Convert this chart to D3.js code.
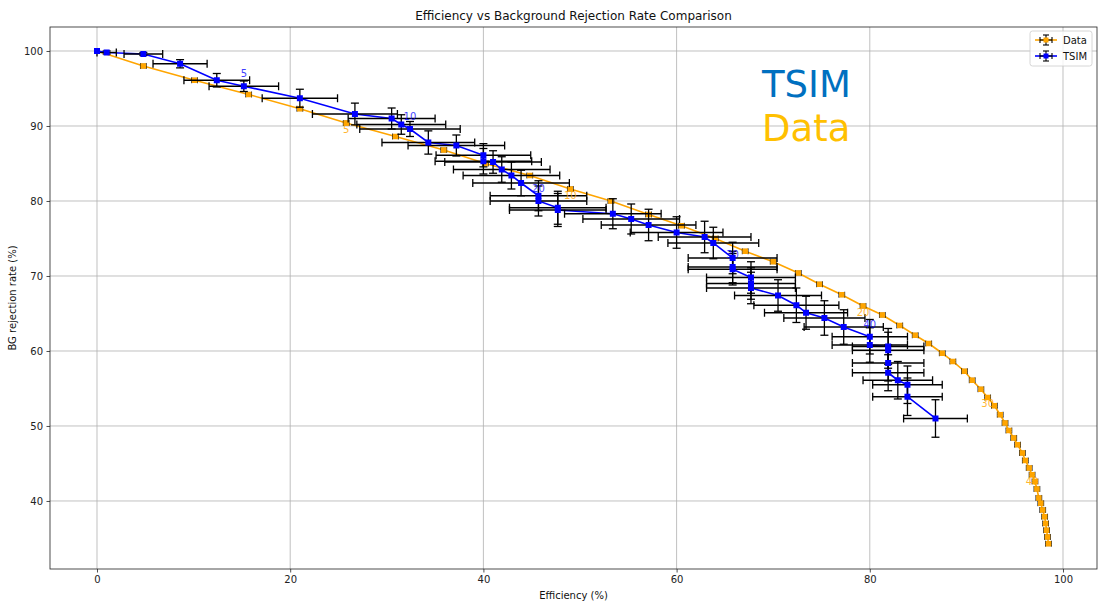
<!DOCTYPE html>
<html>
<head>
<meta charset="utf-8">
<script src="https://cdn.jsdelivr.net/npm/d3@7"></script>
<style>
  html, body { margin: 0; padding: 0; background: #ffffff; }
  svg { display: block; font-family: "DejaVu Sans", sans-serif; }
</style>
</head>
<body>
<svg id="chart" width="1099" height="602"></svg>
<script>
// ---------- data ----------
const dataEff = [0, 4.8, 10.1, 15.7, 21.0, 25.8, 30.9, 35.9, 40.2, 44.8, 49.0, 53.2, 57.1, 60.5, 64.0, 67.1, 70.0, 72.6, 74.8, 77.1, 79.3, 81.3, 83.1, 84.7, 86.1, 87.5, 88.6, 89.8, 90.6, 91.5, 92.2, 92.9, 93.5, 94.0, 94.4, 94.9, 95.3, 95.8, 96.1, 96.5, 96.8, 97.1, 97.3, 97.5, 97.7, 97.9, 98.1, 98.2, 98.3, 98.4, 98.5];
const dataRej = [100, 98.0, 96.1, 94.2, 92.3, 90.4, 88.6, 86.8, 85.0, 83.4, 81.6, 80.0, 78.2, 76.7, 75.0, 73.3, 71.9, 70.4, 68.9, 67.5, 66.0, 64.8, 63.4, 62.1, 61.0, 59.7, 58.6, 57.3, 56.1, 54.9, 53.8, 52.7, 51.5, 50.4, 49.4, 48.4, 47.5, 46.4, 45.4, 44.4, 43.5, 42.6, 41.6, 40.4, 39.7, 38.8, 37.9, 37.0, 36.1, 35.2, 34.3];
const dataXErr = [0, 0.3, 0.3, 0.3, 0.3, 0.3, 0.3, 0.3, 0.3, 0.3, 0.3, 0.3, 0.3, 0.3, 0.3, 0.3, 0.3, 0.3, 0.3, 0.3, 0.3, 0.3, 0.3, 0.3, 0.3, 0.3, 0.3, 0.3, 0.3, 0.3, 0.3, 0.3, 0.3, 0.3, 0.3, 0.3, 0.3, 0.3, 0.3, 0.3, 0.3, 0.3, 0.3, 0.3, 0.3, 0.3, 0.3, 0.3, 0.3, 0.3, 0.3];
const dataYErr = [0, 0.25, 0.25, 0.25, 0.25, 0.25, 0.25, 0.25, 0.25, 0.25, 0.25, 0.25, 0.25, 0.25, 0.25, 0.25, 0.25, 0.25, 0.25, 0.25, 0.25, 0.25, 0.25, 0.25, 0.25, 0.25, 0.25, 0.25, 0.25, 0.25, 0.25, 0.25, 0.25, 0.25, 0.25, 0.25, 0.25, 0.25, 0.25, 0.25, 0.25, 0.25, 0.25, 0.25, 0.25, 0.25, 0.25, 0.25, 0.25, 0.25, 0.25];

const tsimEff = [0, 1.0, 4.8, 8.6, 12.4, 15.2, 21.0, 26.7, 30.5, 31.5, 32.4, 34.3, 37.2, 40.0, 40.0, 41.0, 41.9, 42.9, 43.9, 45.7, 45.7, 47.7, 47.7, 53.4, 55.3, 57.1, 60.0, 62.9, 63.8, 65.8, 65.8, 65.8, 67.7, 67.7, 67.7, 70.5, 72.4, 73.4, 75.3, 77.3, 80.0, 80.0, 81.9, 81.9, 81.9, 81.9, 82.9, 83.9, 83.9, 86.8];
const tsimRej = [100, 99.8, 99.6, 98.3, 96.1, 95.3, 93.7, 91.6, 91.0, 90.2, 89.6, 87.8, 87.4, 86.1, 85.3, 85.2, 84.2, 83.4, 82.4, 80.7, 80.0, 79.1, 78.8, 78.3, 77.6, 76.8, 75.8, 75.2, 74.4, 72.4, 71.2, 70.9, 69.8, 69.0, 68.4, 67.4, 66.1, 65.1, 64.4, 63.2, 61.9, 60.8, 60.6, 60.1, 58.4, 57.1, 56.1, 55.5, 53.9, 51.0];
const tsimXErr = [0, 1.0, 2.0, 2.8, 3.4, 3.6, 3.9, 4.4, 4.5, 4.6, 5.2, 4.8, 5.0, 4.9, 5.0, 5.0, 5.0, 5.0, 5.0, 5.0, 5.0, 5.0, 5.0, 5.0, 5.0, 4.9, 4.8, 4.8, 4.7, 4.6, 4.6, 4.6, 4.6, 4.6, 4.6, 4.5, 4.4, 4.3, 4.2, 4.1, 3.9, 3.9, 3.7, 3.7, 3.7, 3.7, 3.6, 3.6, 3.6, 3.3];
const tsimYErr = [0, 0.2, 0.2, 0.55, 0.9, 0.7, 1.2, 1.45, 1.4, 1.3, 1.0, 1.55, 1.4, 1.55, 1.7, 1.5, 1.7, 1.8, 1.7, 2.0, 2.0, 2.2, 2.2, 2.0, 2.0, 2.1, 2.1, 2.1, 2.1, 2.1, 2.1, 2.1, 2.1, 2.1, 2.1, 2.1, 2.3, 2.2, 2.3, 2.3, 2.3, 2.3, 2.4, 2.4, 2.4, 2.4, 2.5, 2.5, 2.5, 2.5];

const labelIdx = [5, 10, 20, 30, 40];
const xTicks = [0, 20, 40, 60, 80, 100];
const yTicks = [40, 50, 60, 70, 80, 90, 100];
const seriesNames = ["Data", "TSIM"];

// ---------- layout ----------
const svg = d3.select("#chart");
const L = 50, R = 1097, T = 27, B = 569;
const x = d3.scaleLinear().domain([-4.865, 103.52]).range([L, R]);
const y = d3.scaleLinear().domain([30.93, 103.2]).range([B, T]);

const C_DATA = "#FFA500", C_TSIM = "#0000FF", C_ERR = "#000000";

// grid
const grid = svg.append("g");
grid.selectAll(".gx").data(xTicks).join("line")
  .attr("x1", d => x(d)).attr("x2", d => x(d)).attr("y1", T).attr("y2", B)
  .attr("stroke", "#b0b0b0").attr("stroke-width", 0.8);
grid.selectAll(".gy").data(yTicks).join("line")
  .attr("y1", d => y(d)).attr("y2", d => y(d)).attr("x1", L).attr("x2", R)
  .attr("stroke", "#b0b0b0").attr("stroke-width", 0.8);

// axes
const xAxis = d3.axisBottom(x).tickValues(xTicks).tickSize(3.5).tickPadding(3.5).tickFormat(d3.format("d"));
const yAxis = d3.axisLeft(y).tickValues(yTicks).tickSize(3.5).tickPadding(3.5).tickFormat(d3.format("d"));
const gx = svg.append("g").attr("transform", `translate(0,${B})`).call(xAxis);
const gy = svg.append("g").attr("transform", `translate(${L},0)`).call(yAxis);
[gx, gy].forEach(g => {
  g.select(".domain").remove();
  g.selectAll("text").attr("font-size", 10).attr("fill", "#222").attr("font-family", "DejaVu Sans, sans-serif");
  g.selectAll("line").attr("stroke", "#222").attr("stroke-width", 0.8);
});

// clip
svg.append("clipPath").attr("id", "clip").append("rect")
  .attr("x", L).attr("y", T).attr("width", R - L).attr("height", B - T);
const plot = svg.append("g").attr("clip-path", "url(#clip)");

function drawSeries(effs, rejs, xe, ye, color, msize, lw, ebw, cap) {
  const pts = effs.map((e, i) => ({ e, r: rejs[i], xe: xe[i], ye: ye[i], i }));
  const g = plot.append("g");
  // line
  g.append("path").datum(pts)
    .attr("d", d3.line().x(d => x(d.e)).y(d => y(d.r)))
    .attr("fill", "none").attr("stroke", color).attr("stroke-width", lw);
  // error bars
  const eb = g.append("g").attr("stroke", C_ERR).attr("stroke-width", ebw).attr("fill", "none");
  pts.forEach(d => {
    if (d.xe > 0) {
      const x0 = x(d.e - d.xe), x1 = x(d.e + d.xe), yy = y(d.r);
      eb.append("line").attr("x1", x0).attr("x2", x1).attr("y1", yy).attr("y2", yy);
      eb.append("line").attr("x1", x0).attr("x2", x0).attr("y1", yy - cap).attr("y2", yy + cap);
      eb.append("line").attr("x1", x1).attr("x2", x1).attr("y1", yy - cap).attr("y2", yy + cap);
    }
    if (d.ye > 0) {
      const y0 = y(d.r - d.ye), y1 = y(d.r + d.ye), xx = x(d.e);
      eb.append("line").attr("x1", xx).attr("x2", xx).attr("y1", y0).attr("y2", y1);
      eb.append("line").attr("x1", xx - cap).attr("x2", xx + cap).attr("y1", y0).attr("y2", y0);
      eb.append("line").attr("x1", xx - cap).attr("x2", xx + cap).attr("y1", y1).attr("y2", y1);
    }
  });
  // markers
  g.selectAll("rect.m").data(pts).join("rect")
    .attr("x", d => x(d.e) - msize / 2).attr("y", d => y(d.r) - msize / 2)
    .attr("width", msize).attr("height", msize).attr("fill", color);
  return pts;
}

drawSeries(dataEff, dataRej, dataXErr, dataYErr, C_DATA, 5.5, 1.6, 0.8, 3);
drawSeries(tsimEff, tsimRej, tsimXErr, tsimYErr, C_TSIM, 6, 1.6, 1.3, 4);

// index labels
plot.append("g").selectAll("text").data(labelIdx).join("text")
  .attr("x", i => x(dataEff[i])).attr("y", i => y(dataRej[i]) + 10)
  .attr("text-anchor", "middle").attr("font-size", 10).attr("fill", C_DATA).attr("opacity", 0.8)
  .text(i => i);
plot.append("g").selectAll("text").data(labelIdx).join("text")
  .attr("x", i => x(tsimEff[i])).attr("y", i => y(tsimRej[i]) - 9)
  .attr("text-anchor", "middle").attr("font-size", 10).attr("fill", C_TSIM).attr("opacity", 0.75)
  .text(i => i);

// frame
svg.append("rect").attr("x", L).attr("y", T).attr("width", R - L).attr("height", B - T)
  .attr("fill", "none").attr("stroke", "#222").attr("stroke-width", 0.8);

// big annotations
svg.append("text").attr("x", 762).attr("y", 97).attr("font-size", 37).attr("fill", "#0070C0").text("TSIM");
svg.append("text").attr("x", 762).attr("y", 141).attr("font-size", 37).attr("fill", "#FFC000").text("Data");

// title & labels
svg.append("text").attr("x", (L + R) / 2).attr("y", 20).attr("text-anchor", "middle")
  .attr("font-size", 12).attr("fill", "#111").text("Efficiency vs Background Rejection Rate Comparison");
svg.append("text").attr("x", (L + R) / 2).attr("y", 599).attr("text-anchor", "middle")
  .attr("font-size", 10).attr("fill", "#111").text("Efficiency (%)");
svg.append("text").attr("transform", `translate(16,${(T + B) / 2}) rotate(-90)`).attr("text-anchor", "middle")
  .attr("font-size", 10).attr("fill", "#111").text("BG rejection rate (%)");

// legend
const lg = svg.append("g").attr("transform", "translate(1030,31)");
lg.append("rect").attr("x", 0).attr("y", 0).attr("width", 62).attr("height", 35).attr("rx", 2.5)
  .attr("fill", "white").attr("fill-opacity", 0.8).attr("stroke", "#cccccc").attr("stroke-width", 0.8);
[C_DATA, C_TSIM].forEach((c, k) => {
  const yy = 9 + k * 16;
  const h = lg.append("g");
  h.append("line").attr("x1", 5).attr("x2", 27).attr("y1", yy).attr("y2", yy).attr("stroke", c).attr("stroke-width", 1.6);
  h.append("line").attr("x1", 16).attr("x2", 16).attr("y1", yy - 5).attr("y2", yy + 5).attr("stroke", C_ERR).attr("stroke-width", 1.1);
  h.append("line").attr("x1", 13).attr("x2", 19).attr("y1", yy - 5).attr("y2", yy - 5).attr("stroke", C_ERR).attr("stroke-width", 1.1);
  h.append("line").attr("x1", 13).attr("x2", 19).attr("y1", yy + 5).attr("y2", yy + 5).attr("stroke", C_ERR).attr("stroke-width", 1.1);
  h.append("line").attr("x1", 10).attr("x2", 22).attr("y1", yy).attr("y2", yy).attr("stroke", C_ERR).attr("stroke-width", 1.1);
  h.append("line").attr("x1", 10).attr("x2", 10).attr("y1", yy - 3).attr("y2", yy + 3).attr("stroke", C_ERR).attr("stroke-width", 1.1);
  h.append("line").attr("x1", 22).attr("x2", 22).attr("y1", yy - 3).attr("y2", yy + 3).attr("stroke", C_ERR).attr("stroke-width", 1.1);
  h.append("rect").attr("x", 13.5).attr("y", yy - 2.5).attr("width", 5).attr("height", 5).attr("fill", c);
  lg.append("text").attr("x", 33).attr("y", yy + 3.5).attr("font-size", 10).attr("fill", "#111").text(seriesNames[k]);
});
</script>
</body>
</html>
